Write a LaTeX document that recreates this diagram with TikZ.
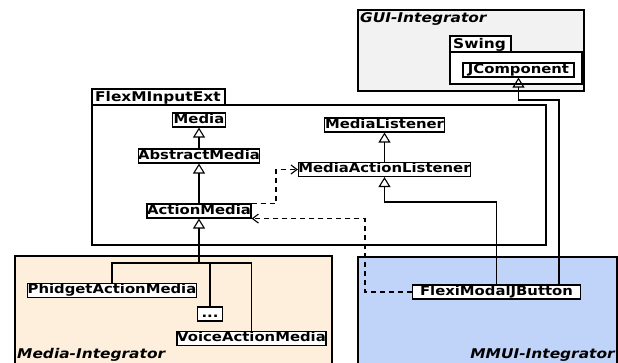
\documentclass[tikz,border=0pt]{standalone}
\usepackage{fontspec}
\setmainfont{DejaVu Sans}[FakeStretch=1.15]
\usetikzlibrary{arrows.meta}
\definecolor{mediabg}{RGB}{253,239,219}
\definecolor{mmuibg}{RGB}{192,212,250}
\definecolor{guibg}{RGB}{242,242,242}
\tikzset{
 cls/.style={draw, fill=white, line width=1.1pt, inner xsep=0pt, inner ysep=1pt, text height=9.3pt, text depth=2.7pt, font=\bfseries\fontsize{12.9}{15}\selectfont},
 pkg/.style={draw, line width=1.1pt},
 ptitle/.style={font=\bfseries\fontsize{13.4}{15}\selectfont, inner sep=0pt, anchor=base west},
 ititle/.style={font=\bfseries\itshape\fontsize{13.4}{15}\selectfont, inner sep=0pt},
 conn/.style={line width=1.1pt},
 inh/.style={conn, -{Triangle[open, length=10pt, width=12pt]}},
 dep/.style={conn, dash pattern=on 5pt off 4pt, -{Straight Barb[length=6pt, width=9pt]}},
}
\begin{document}
\begin{tikzpicture}[x=1pt,y=-1pt]
\useasboundingbox (0,0) rectangle (618,362);
% packages
\path[pkg, fill=mediabg] (15,256) rectangle (332,366);
\path[pkg, fill=mmuibg] (358,257) rectangle (617,366);
\path[pkg, fill=guibg] (358,10) rectangle (584,91);
\node[ititle, anchor=base west] (guiT) at (360,22.5) {GUI-Integrator};
\path[pkg, fill=white] (450,36) rectangle (511,52);
\path[pkg, fill=white] (450,52) rectangle (582,84);
\node[ptitle] (swingT) at (453,48.5) {Swing};
\path[pkg, fill=white] (92,89) rectangle (225,105);
\path[pkg, fill=white] (92,105) rectangle (546,245);
\node[ptitle] (flexT) at (95,101.5) {FlexMInputExt};
\node[ititle, anchor=base west] (mediaT) at (17,358.5) {Media-Integrator};
\node[ititle, anchor=base east] (mmuiT) at (615,358.5) {MMUI-Integrator};
% classes
\node[cls, minimum width=53pt] (media) at (199,120) {Media};
\node[cls, minimum width=119pt] (abstract) at (199,156) {AbstractMedia};
\node[cls, minimum width=104pt] (action) at (199,211) {ActionMedia};
\node[cls, minimum width=120pt] (ml) at (384.5,125) {MediaListener};
\node[cls, minimum width=172pt] (mal) at (384.5,169.5) {MediaActionListener};
\node[cls, minimum width=111pt] (jcomp) at (518.5,70) {JComponent};
\node[cls, minimum width=169pt] (phidget) at (112,290.5) {PhidgetActionMedia};
\node[cls, minimum width=25pt] (dots) at (210,314) {...};
\node[cls, minimum width=149pt] (voice) at (251.5,338.5) {VoiceActionMedia};
\node[cls, minimum width=168pt] (fmjb) at (496.5,292) {FlexiModalJButton};
% connectors
\draw[inh] (abstract.north) -- (media.south);
\draw[inh] (action.north) -- (abstract.south);
\coordinate (bus) at (199,263);
\draw[inh] (bus) -- (action.south);
\draw[conn] (phidget.north) |- (bus);
\draw[conn] (dots.north) |- (bus);
\draw[conn] (voice.north) |- (bus);
\draw[inh] (mal.north) -- (ml.south);
\coordinate (k1) at (0,202);
\draw[inh] (fmjb.north) |- (mal.south |- k1) -- (mal.south);
\coordinate (k2) at (559,100);
\draw[inh] (fmjb.north -| k2) -- (k2) -| (jcomp.south);
\coordinate (k3) at (276,0);
\draw[dep] (action.north east) -| (k3 |- mal.west) -- (mal.west);
\coordinate (k4) at (365,0);
\draw[dep] (fmjb.west) -| (k4 |- action.south east) -- (action.south east);
\end{tikzpicture}
\end{document}
